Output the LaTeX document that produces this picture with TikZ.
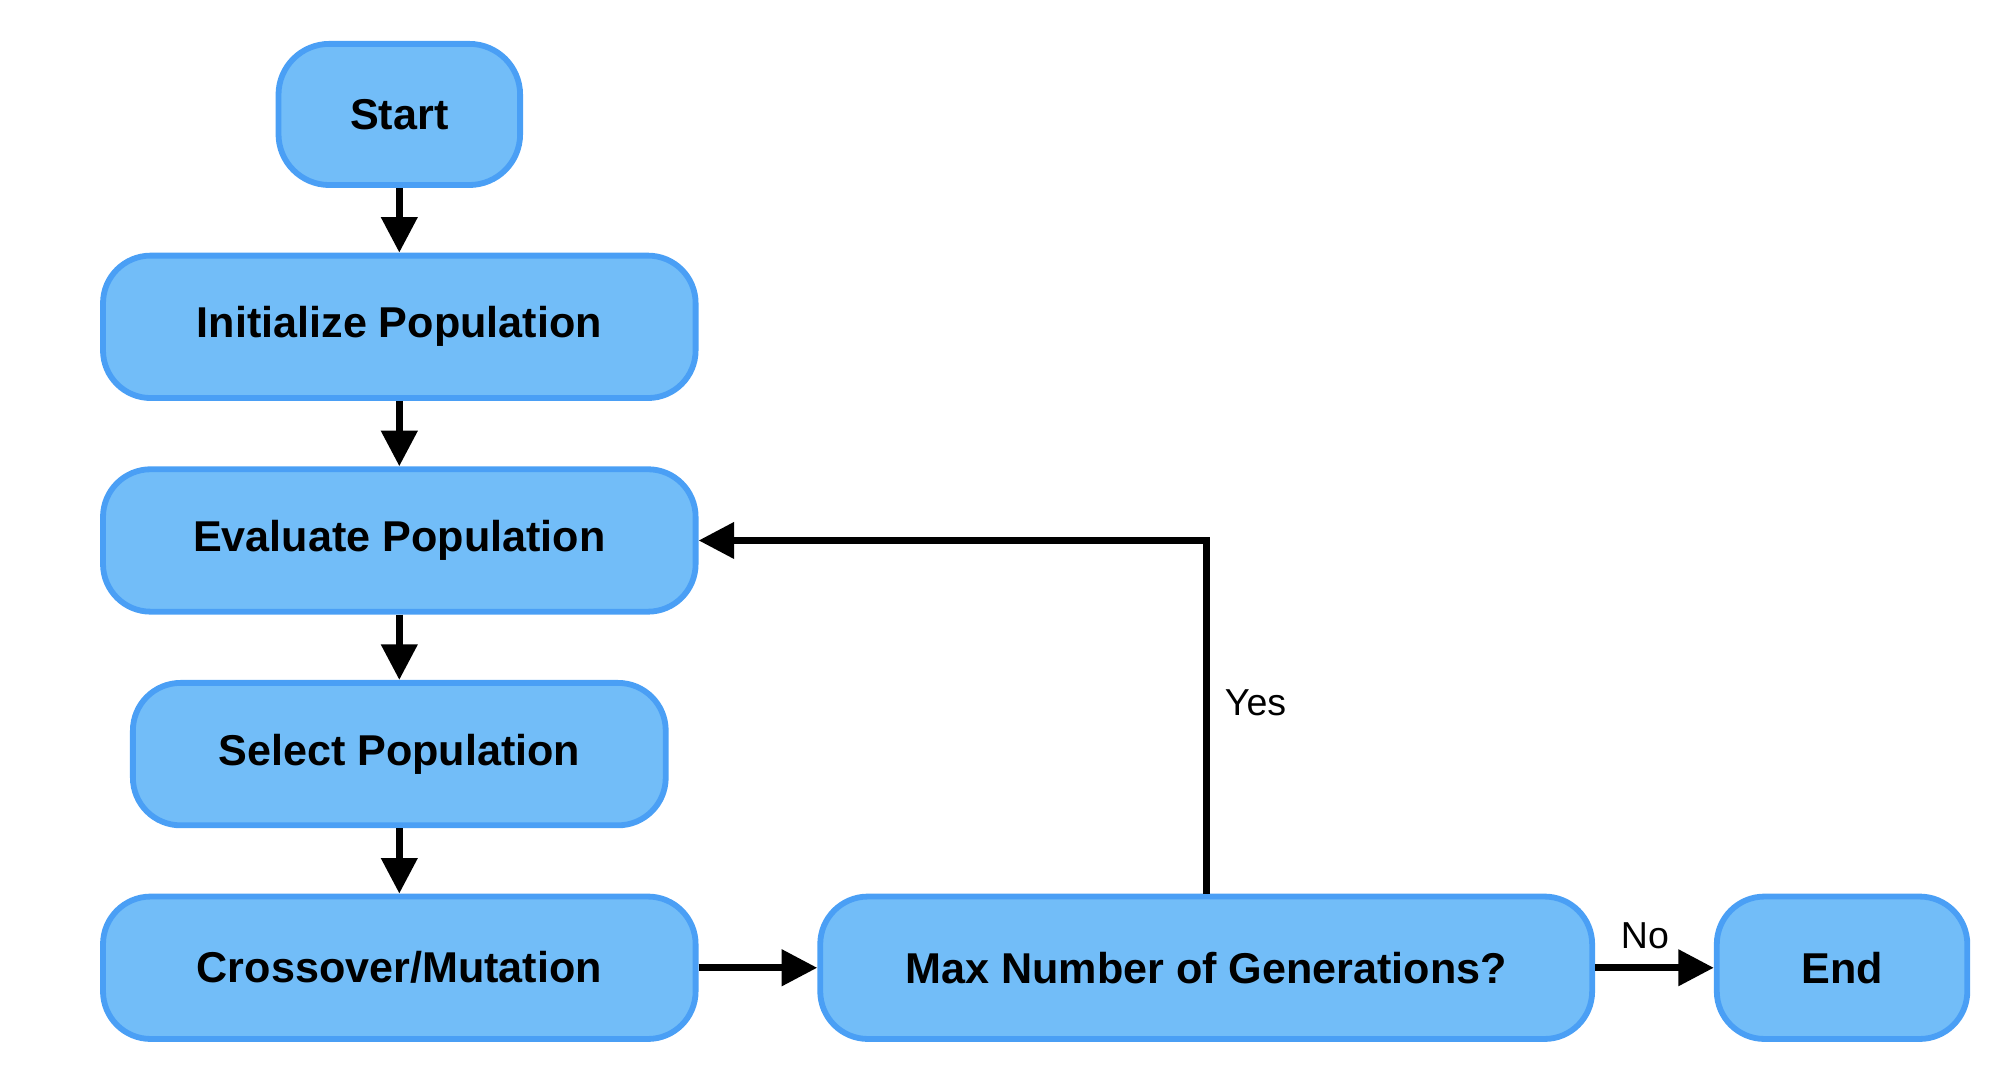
\documentclass[tikz,border=0pt]{standalone}
\usepackage{fontspec}
\setmainfont{Liberation Sans}
\usetikzlibrary{arrows.meta}
\definecolor{boxfill}{HTML}{72BDF8}
\definecolor{boxline}{HTML}{4A9FF5}
\tikzstyle{terminal} = [rectangle, rounded corners=0.8cm, minimum width=3.8cm, minimum height=2.22cm, text centered, draw=boxline, line width=2.6pt, fill=boxfill, font=\bfseries\fontsize{19.3}{23}\selectfont]
\tikzstyle{process} = [rectangle, rounded corners=0.75cm, minimum width=9.32cm, minimum height=2.24cm, text centered, draw=boxline, line width=2.6pt, fill=boxfill, font=\bfseries\fontsize{19.3}{23}\selectfont]
\tikzstyle{decision} = [process, minimum width=12.14cm]
\tikzstyle{arrow} = [-{Triangle[length=0.56cm,width=0.55cm]}, line width=3.3pt]
\tikzstyle{answer} = [font=\fontsize{16.8}{20}\selectfont]
\begin{document}
\begin{tikzpicture}[node distance=3.36cm]
		\useasboundingbox (0,0) rectangle (31.36,-16.86);
		\node (start) [terminal] at (6.28,-1.8) {Start};
		\node (init) [process, below of=start, yshift=0.02cm] {Initialize Population};
		\node (eval) [process, below of=init] {Evaluate Population};
		\node (select) [process, below of=eval, minimum width=8.38cm] {Select Population};
		\node (cross) [process, below of=select] {Crossover/Mutation};
		\node (maxgen) [decision, right of=cross, node distance=12.69cm] {Max Number of Generations?};
		\node (stop) [terminal, right of=maxgen, node distance=10cm, minimum width=3.94cm, minimum height=2.24cm, rounded corners=0.75cm] {End};
		
		\draw [arrow](start) -- (init);
		\draw [arrow](init) -- (eval);
		\draw [arrow](eval) -- (select);
		\draw [arrow](select) -- (cross);
		\draw [arrow](cross) -- (maxgen);
		\draw [arrow](maxgen) -- node[answer, pos=0.42, above=0.12cm] {No} (stop);
		\draw [arrow](maxgen.north) |- node[answer, pos=0.27, right=0.12cm] {Yes} (eval.east);
	\end{tikzpicture}
\end{document}
